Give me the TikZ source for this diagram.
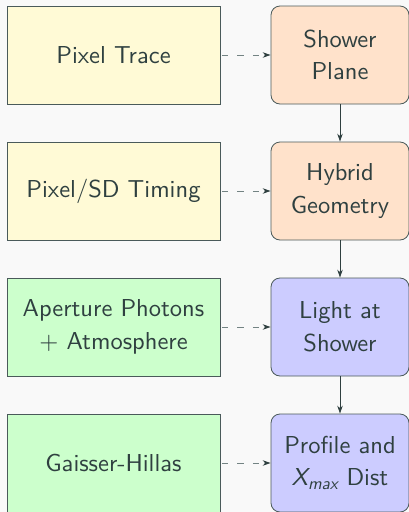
\documentclass[tikz,border=0pt]{standalone}
\usepackage{fontspec}
\setsansfont{lmsans10-regular.otf}[ItalicFont=lmsans10-oblique.otf]
\usetikzlibrary{arrows.meta}
\definecolor{bgc}{HTML}{F9F9F9}
\definecolor{ink}{HTML}{2F4040}
\definecolor{edge}{HTML}{4A5A5A}
\definecolor{dashc}{HTML}{738383}
\definecolor{yel}{HTML}{FFFAD6}
\definecolor{ora}{HTML}{FFE2CB}
\definecolor{gre}{HTML}{CCFFCC}
\definecolor{blu}{HTML}{CCCCFF}
\tikzset{
  base/.style={draw=edge, line width=0.8pt, text=ink, align=center,
    font=\sffamily\fontsize{24.5}{32.5}\selectfont, inner sep=0pt},
  leftbox/.style={base, minimum width=213pt, minimum height=98pt},
  rightbox/.style={base, rounded corners=9pt, minimum width=138pt, minimum height=98pt},
  dasharrow/.style={draw=dashc, line width=1pt, dash pattern=on 6.5pt off 9pt,
    dash phase=-1.5pt, -{Stealth[length=8pt,width=5.5pt,color=ink]}},
  solidarrow/.style={draw=ink, line width=1pt, -{Stealth[length=8pt,width=5.5pt]}}
}
\begin{document}
\begin{tikzpicture}[x=1pt,y=1pt]
\fill[bgc] (0,0) rectangle (409,-512);
\useasboundingbox (0,0) rectangle (409,-512);
\node[leftbox, fill=yel] (l1) at (113.5,-55) {Pixel Trace};
\node[leftbox, fill=yel] (l2) at (113.5,-191) {Pixel/SD Timing};
\node[leftbox, fill=gre] (l3) at (113.5,-327) {Aperture Photons\\+ Atmosphere};
\node[leftbox, fill=gre] (l4) at (113.5,-463) {Gaisser-Hillas};
\node[rightbox, fill=ora] (r1) at (340,-55) {Shower\\Plane};
\node[rightbox, fill=ora] (r2) at (340,-191) {Hybrid\\Geometry};
\node[rightbox, fill=blu] (r3) at (340,-327) {Light at\\Shower};
\node[rightbox, fill=blu] (r4) at (340,-463) {Profile and\\{\itshape X\textsubscript{max}} Dist};
\foreach \i in {1,2,3,4} {\draw[dasharrow] (l\i) -- (r\i);}
\draw[solidarrow] (r1) -- (r2);
\draw[solidarrow] (r2) -- (r3);
\draw[solidarrow] (r3) -- (r4);
\end{tikzpicture}
\end{document}
